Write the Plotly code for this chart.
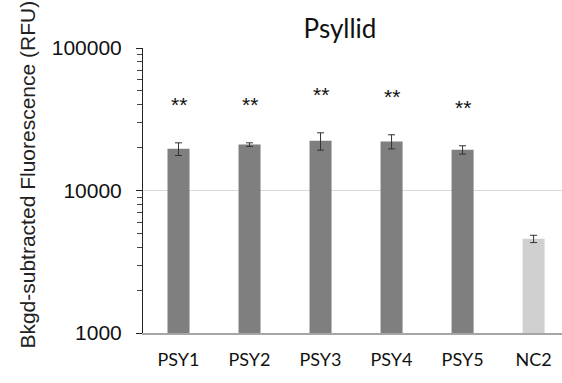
import math
import plotly.graph_objects as go

# Mean background-subtracted fluorescence per sample, with error bars
samples = ["PSY1", "PSY2", "PSY3", "PSY4", "PSY5", "NC2"]
fluorescence = [19600, 21000, 22300, 22100, 19300, 4580]
errors = [2000, 600, 3100, 2500, 1300, 270]
significance = ["**", "**", "**", "**", "**", ""]
bar_colors = ["#7f7f7f"] * 5 + ["#d0d0d0"]

fig = go.Figure()
fig.add_trace(go.Bar(
    x=samples,
    y=fluorescence,
    marker=dict(color=bar_colors, line=dict(width=0)),
    error_y=dict(type="data", array=errors, visible=True,
                 color="#333333", thickness=1, width=3.5),
    width=0.31,
))

# significance markers sit above each error bar
for s, v, e, mark in zip(samples, fluorescence, errors, significance):
    if mark:
        fig.add_annotation(x=s, y=math.log10((v + e) * 1.97),
                           xref="x", yref="y", text=mark, showarrow=False,
                           yanchor="middle", yshift=-4,
                           font=dict(family="Liberation Sans", size=21, color="#111111"))

fig.add_annotation(text="Bkgd-subtracted Fluorescence (RFU)", textangle=-90,
                   xref="paper", yref="paper", x=-0.275, y=0.555,
                   xanchor="center", yanchor="middle", showarrow=False,
                   font=dict(family="Liberation Sans", size=21, color="#222222"))

fig.update_layout(
    width=562, height=383,
    margin=dict(l=143, r=0, t=48, b=50),
    paper_bgcolor="white", plot_bgcolor="white",
    showlegend=False,
    title=dict(text="Psyllid", x=0.605, xanchor="center", y=0.925, yanchor="middle",
               font=dict(family="Lato", size=26, color="#111111")),
    xaxis=dict(range=[-0.5, 5.4], showline=True, linecolor="#a6a6a6", linewidth=1.5,
               ticks="", ticklabelstandoff=10,
               tickfont=dict(family="Lato", size=18, color="#111111"),
               showgrid=False, zeroline=False),
    yaxis=dict(type="log", range=[3, 5], tickvals=[1000, 10000, 100000],
               ticktext=["1000", "10000", "100000"],
               showline=True, linecolor="#222222", linewidth=1,
               ticks="outside", ticklen=6, tickcolor="#222222",
               ticklabelstandoff=10,
               tickfont=dict(family="Liberation Sans", size=21, color="#111111"),
               showgrid=True, gridcolor="#d9d9d9", gridwidth=1,
               minor=dict(ticks="outside", ticklen=5, tickcolor="#444444", dtick="D1",
                          showgrid=False),
               zeroline=False),
)

fig.write_html("out.html")
